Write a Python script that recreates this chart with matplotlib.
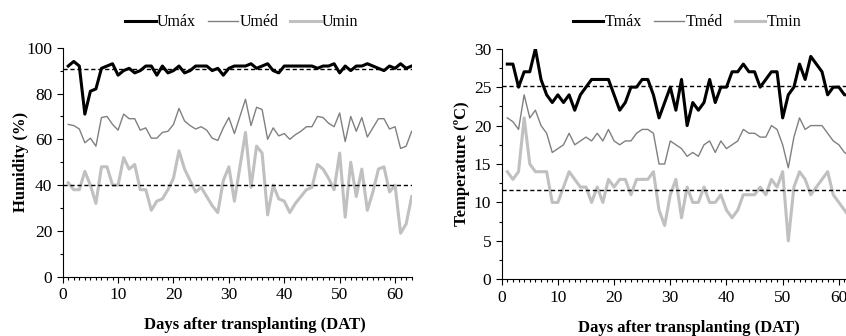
import matplotlib
matplotlib.use("Agg")
from matplotlib import pyplot as plt
from matplotlib.ticker import MultipleLocator
import numpy as np

plt.rcParams['font.family'] = ['Liberation Serif', 'DejaVu Serif']

days = np.arange(1, 64)

# humidity (%)
u_max = [92, 94, 92, 71, 81, 82, 91, 92, 93, 88, 90, 91, 89, 90, 92, 92, 88, 92, 89, 90,
         92, 89, 90, 92, 92, 92, 90, 91, 88, 91, 92, 92, 92, 93, 91, 92, 93, 90, 89, 92,
         92, 92, 92, 92, 92, 91, 92, 92, 93, 89, 92, 90, 92, 92, 93, 92, 91, 90, 92, 91,
         93, 91, 92]
u_med = [66.5, 66, 64.5, 58.5, 60.5, 57, 69.5, 70, 66.5, 64, 71, 69, 69, 64, 65, 60.5, 60.5, 63, 63.5, 66.5,
         73.5, 68, 66, 64.5, 65.5, 64, 60.5, 59.5, 65, 69.5, 62.5, 70, 77.5, 66, 74, 73, 60, 65, 61.5, 62.5,
         60, 62, 63.5, 65.5, 65.5, 70, 69.5, 67, 65.5, 71.5, 59, 70, 63.5, 69.5, 61, 65, 69, 69, 64.5, 65.5,
         56, 57, 63.5]
u_min = [41, 38, 38, 46, 40, 32, 48, 48, 40, 40, 52, 47, 49, 38, 38, 29, 33, 34, 38, 43,
         55, 47, 42, 37, 39, 35, 31, 28, 42, 48, 33, 48, 63, 39, 57, 54, 27, 40, 34, 33,
         28, 32, 35, 38, 39, 49, 47, 43, 38, 54, 26, 50, 35, 47, 29, 37, 47, 48, 37, 40,
         19, 23, 35]
u_ref = [90.7, 40.2]

# temperature (°C)
t_max = [28, 28, 25, 27, 27, 30, 26, 24, 23, 24, 23, 24, 22, 24, 25, 26, 26, 26, 26, 24,
         22, 23, 25, 25, 26, 26, 24, 21, 23, 25, 22, 26, 20, 23, 22, 23, 26, 23, 25, 25,
         27, 27, 28, 27, 27, 25, 26, 27, 27, 21, 24, 25, 28, 26, 29, 28, 27, 24, 25, 25,
         24, 24, 24]
t_med = [21, 20.5, 19.5, 24, 21, 22, 20, 19, 16.5, 17, 17.5, 19, 17.5, 18, 18.5, 18, 19, 18, 19.5, 18,
         17.5, 18, 18, 19, 19.5, 19.5, 19, 15, 15, 18, 17.5, 17, 16, 16.5, 16, 17.5, 18, 16.5, 18, 17,
         17.5, 18, 19.5, 19, 19, 18.5, 18.5, 20, 19.5, 17.5, 14.5, 18.5, 21, 19.5, 20, 20, 20, 19, 18, 17.5,
         16.5, 16, 16]
t_min = [14, 13, 14, 21, 15, 14, 14, 14, 10, 10, 12, 14, 13, 12, 12, 10, 12, 10, 13, 12,
         13, 13, 11, 13, 13, 13, 14, 9, 7, 11, 13, 8, 12, 10, 10, 12, 10, 10, 11, 9,
         8, 9, 11, 11, 11, 12, 11, 13, 12, 14, 5, 12, 14, 13, 11, 12, 13, 14, 11, 10,
         9, 8, 8]
t_ref = [25.1, 11.6]

fig = plt.figure(figsize=(8.46, 3.36), dpi=100)
ax1 = fig.add_axes([0.0741, 0.1765, 0.4125, 0.6815])
ax2 = fig.add_axes([0.5930, 0.1688, 0.4185, 0.6862])


def draw(ax, hi, mid, lo, refs, names, ylim, ymaj, ymin, ylabel, xlab_x, ypad):
    ax.plot(days, hi, color='black', lw=2.2, label=names[0])
    ax.plot(days, mid, color='#808080', lw=1.0, label=names[1])
    ax.plot(days, lo, color='#c0c0c0', lw=2.2, label=names[2])
    for r in refs:
        ax.axhline(r, color='black', lw=1.0, ls=(0, (3, 2)))
    ax.set_xlim(0, 63)
    ax.set_ylim(*ylim)
    ax.xaxis.set_major_locator(MultipleLocator(10))
    ax.xaxis.set_minor_locator(MultipleLocator(1))
    ax.yaxis.set_major_locator(MultipleLocator(ymaj))
    ax.yaxis.set_minor_locator(MultipleLocator(ymin))
    ax.tick_params(axis='both', which='major', labelsize=12.5, length=4, width=0.8)
    ax.tick_params(axis='both', which='minor', length=2.5, width=0.8)
    ax.spines['top'].set_visible(False)
    ax.spines['right'].set_visible(False)
    ax.set_xlabel('Days after transplanting (DAT)', fontsize=12, fontweight='bold')
    ax.xaxis.set_label_coords(xlab_x, -0.175)
    ax.set_ylabel(ylabel, fontsize=12, fontweight='bold', labelpad=ypad)
    return ax.get_legend_handles_labels()


h1, l1 = draw(ax1, u_max, u_med, u_min, u_ref, ['Umáx', 'Uméd', 'Umin'],
              (0, 100), 20, 10, 'Humidity (%)', 0.551, -2)
h2, l2 = draw(ax2, t_max, t_med, t_min, t_ref, ['Tmáx', 'Tméd', 'Tmin'],
              (0, 30), 5, 2.5, 'Temperature (ºC)', 0.529, 3)

fig.legend(h1, l1, loc='center', bbox_to_anchor=(0.286, 0.934), ncol=3, frameon=False,
           fontsize=11.5, handlelength=1.9, handletextpad=0.08, columnspacing=0.75)
fig.legend(h2, l2, loc='center', bbox_to_anchor=(0.812, 0.934), ncol=3, frameon=False,
           fontsize=11.5, handlelength=1.9, handletextpad=0.08, columnspacing=0.75)

fig.savefig('out.png', dpi=100)
